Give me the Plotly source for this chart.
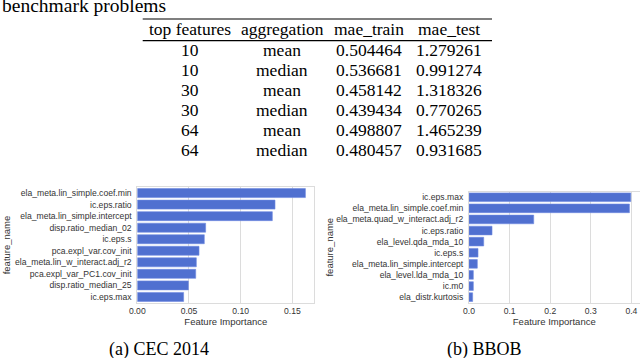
import plotly.graph_objects as go

# table data
top_features = ["10", "10", "30", "30", "64", "64"]
aggregation = ["mean", "median", "mean", "median", "mean", "median"]
mae_train = ["0.504464", "0.536681", "0.458142", "0.439434", "0.498807", "0.480457"]
mae_test = ["1.279261", "0.991274", "1.318326", "0.770265", "1.465239", "0.931685"]
table_header = ["top features", "aggregation", "mae_train", "mae_test"]

# feature importance, CEC 2014
cec_features = ["ela_meta.lin_simple.coef.min", "ic.eps.ratio", "ela_meta.lin_simple.intercept",
                "disp.ratio_median_02", "ic.eps.s", "pca.expl_var.cov_init",
                "ela_meta.lin_w_interact.adj_r2", "pca.expl_var_PC1.cov_init",
                "disp.ratio_median_25", "ic.eps.max"]
cec_importance = [0.1626, 0.1332, 0.1306, 0.0661, 0.0648, 0.0597, 0.0571, 0.0565, 0.0494, 0.0448]

# feature importance, BBOB
bbob_features = ["ic.eps.max", "ela_meta.lin_simple.coef.min", "ela_meta.quad_w_interact.adj_r2",
                 "ic.eps.ratio", "ela_level.qda_mda_10", "ic.eps.s", "ela_meta.lin_simple.intercept",
                 "ela_level.lda_mda_10", "ic.m0", "ela_distr.kurtosis"]
bbob_importance = [0.3985, 0.3952, 0.1594, 0.0567, 0.0362, 0.0222, 0.0205, 0.0107, 0.0107, 0.009]

W, H = 640, 358
serif = "Liberation Serif"
sans = "Liberation Sans"
bar_color = "#5070d0"
grid = "#dcdcdc"


def px_x(v):
    return v / W


def px_y(v):
    return 1 - v / H


fig = go.Figure()

fig.add_trace(go.Bar(x=cec_importance, y=cec_features, orientation="h", width=0.78,
                     marker=dict(color=bar_color, line=dict(color="#6f8ae0", width=0.6)),
                     xaxis="x", yaxis="y", showlegend=False))
fig.add_trace(go.Bar(x=bbob_importance, y=bbob_features, orientation="h", width=0.78,
                     marker=dict(color=bar_color, line=dict(color="#6f8ae0", width=0.6)),
                     xaxis="x2", yaxis="y2", showlegend=False))

tick_font = dict(family=sans, size=8.6, color="#333333")
title_font = dict(family=sans, size=9.5, color="#333333")

axis_common = dict(showline=True, mirror=True, linecolor=grid, linewidth=1, zeroline=False,
                   ticks="", automargin=False)

fig.update_layout(
    width=W, height=H,
    margin=dict(l=0, r=0, t=0, b=0),
    paper_bgcolor="white", plot_bgcolor="white",
    xaxis=dict(domain=[px_x(137.3), px_x(314.3)], range=[0, 0.1712], dtick=0.05, tickformat=".2f",
               showgrid=True, gridcolor=grid, tickfont=tick_font, anchor="y",
               title=dict(text="Feature Importance", font=title_font, standoff=3), **axis_common),
    yaxis=dict(domain=[px_y(302.7), px_y(187.3)], range=[9.5, -0.5], showgrid=False,
               tickfont=tick_font, anchor="x", ticklabelstandoff=3,
               title=dict(text="feature_name", font=title_font, standoff=2), **axis_common),
    xaxis2=dict(domain=[px_x(469), px_x(639.5)], range=[0, 0.42], dtick=0.1, tickformat=".1f",
                showgrid=True, gridcolor=grid, tickfont=tick_font, anchor="y2",
                title=dict(text="Feature Importance", font=title_font, standoff=3), **axis_common),
    yaxis2=dict(domain=[px_y(302.7), px_y(191.7)], range=[9.5, -0.5], showgrid=False,
                tickfont=tick_font, anchor="x2", ticklabelstandoff=3,
                title=dict(text="feature_name", font=title_font, standoff=0), **axis_common),
)

# table drawn as text, column by column
col_x = [190, 282, 369, 449]
table_font = dict(family=serif, size=17.5, color="black")
for cx, head in zip(col_x, table_header):
    fig.add_annotation(text=head, x=px_x(cx), y=px_y(29.5), xref="paper", yref="paper",
                       xanchor="center", yanchor="middle", showarrow=False, font=table_font)
for cx, column in zip(col_x, [top_features, aggregation, mae_train, mae_test]):
    for i, val in enumerate(column):
        fig.add_annotation(text=val, x=px_x(cx), y=px_y(50 + 20 * i), xref="paper", yref="paper",
                           xanchor="center", yanchor="middle", showarrow=False, font=table_font)

# booktabs rules of the table
for y in [19, 40.7]:
    fig.add_shape(type="line", xref="paper", yref="paper", x0=px_x(142.7), x1=px_x(492),
                  y0=px_y(y), y1=px_y(y), line=dict(color="black", width=1.2))

fig.add_annotation(text="benchmark problems", x=0, y=px_y(18), xref="paper", yref="paper",
                   xanchor="left", yanchor="bottom", showarrow=False,
                   font=dict(family=serif, size=19.5, color="black"))
fig.add_annotation(text="(a) CEC 2014", x=px_x(159), y=px_y(349.5), xref="paper", yref="paper",
                   xanchor="center", yanchor="middle", showarrow=False,
                   font=dict(family=serif, size=18, color="black"))
fig.add_annotation(text="(b) BBOB", x=px_x(484.5), y=px_y(349.5), xref="paper", yref="paper",
                   xanchor="center", yanchor="middle", showarrow=False,
                   font=dict(family=serif, size=18, color="black"))

# the page body has a default 8px margin; drop it so the figure fills the window
fig.write_html("out.html", config={"displayModeBar": False},
               post_script="document.body.style.margin = '0';")
